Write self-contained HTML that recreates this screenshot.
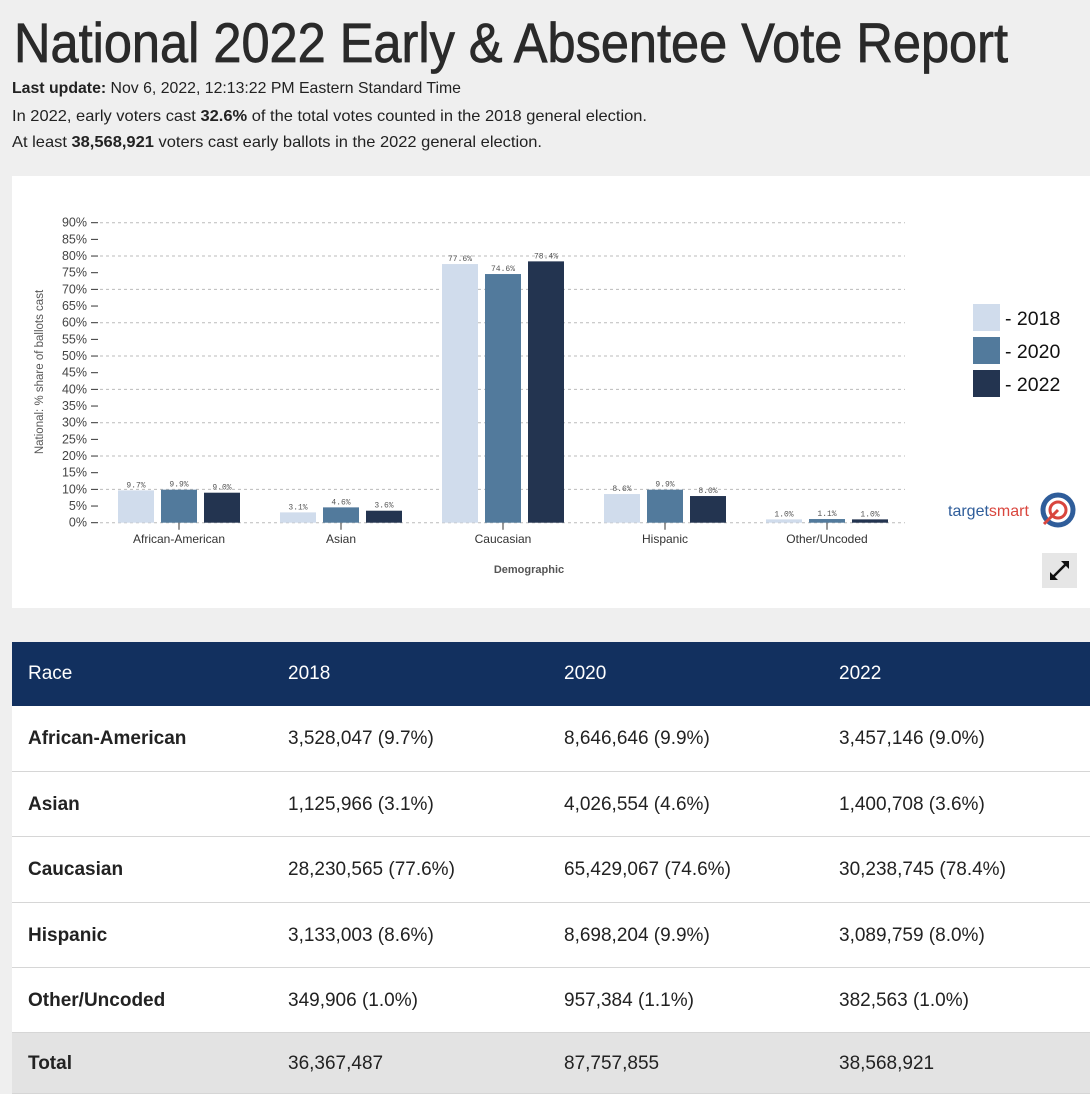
<!DOCTYPE html>
<html><head><meta charset="utf-8">
<style>
body{margin:0;width:1090px;height:1094px;background:#efefef;overflow:hidden;font-family:"Liberation Sans Narrow","Liberation Sans",sans-serif;color:#222;position:relative}
.abs{position:absolute}
#card{left:12px;top:176px;width:1078px;height:432px;background:#fff}
#tbl{left:12px;top:642px;width:1078px}
.row{position:absolute;left:0;width:1078px;border-bottom:1px solid #d6d6d6;background:#fff;box-sizing:border-box}
.row div{position:absolute;top:0;font-size:19px;color:#222}
.hdr{background:#12305f;border:none}
.hdr div{color:#fff;font-size:19px}
.tot{background:#e3e3e3}
b{font-weight:bold}
</style></head><body>
<svg class="abs" style="left:0;top:0" width="1090" height="170">
<text x="14" y="62" font-family="Liberation Sans Narrow, Liberation Sans, sans-serif" font-size="56" fill="#2a2a2a" stroke="#2a2a2a" stroke-width="0.8" textLength="994" lengthAdjust="spacingAndGlyphs">National 2022 Early &amp; Absentee Vote Report</text>
<text x="12" y="93" font-size="16" font-family="Liberation Sans Narrow, Liberation Sans, sans-serif" fill="#222" textLength="449" lengthAdjust="spacingAndGlyphs"><tspan font-weight="bold">Last update:</tspan> Nov 6, 2022, 12:13:22 PM Eastern Standard Time</text>
<text x="12" y="121" font-size="16" font-family="Liberation Sans Narrow, Liberation Sans, sans-serif" fill="#222" textLength="635" lengthAdjust="spacingAndGlyphs">In 2022, early voters cast <tspan font-weight="bold">32.6%</tspan> of the total votes counted in the 2018 general election.</text>
<text x="12" y="147" font-size="16" font-family="Liberation Sans Narrow, Liberation Sans, sans-serif" fill="#222" textLength="530" lengthAdjust="spacingAndGlyphs">At least <tspan font-weight="bold">38,568,921</tspan> voters cast early ballots in the 2022 general election.</text>
</svg>
<div id="card" class="abs"></div>
<svg id="chart" class="abs" style="left:0;top:0" width="1090" height="620"></svg>
<div id="tbl" class="abs"></div>
<script>
const categories=["African-American","Asian","Caucasian","Hispanic","Other/Uncoded"];
const years=["2018","2020","2022"];
const v2018=[9.7,3.1,77.6,8.6,1.0];
const v2020=[9.9,4.6,74.6,9.9,1.1];
const v2022=[9.0,3.6,78.4,8.0,1.0];
const yTicks=[0,5,10,15,20,25,30,35,40,45,50,55,60,65,70,75,80,85,90];
const colors=["#d0dcec","#527a9c","#233450"];
const c2018=["3,528,047 (9.7%)","1,125,966 (3.1%)","28,230,565 (77.6%)","3,133,003 (8.6%)","349,906 (1.0%)"];
const c2020=["8,646,646 (9.9%)","4,026,554 (4.6%)","65,429,067 (74.6%)","8,698,204 (9.9%)","957,384 (1.1%)"];
const c2022=["3,457,146 (9.0%)","1,400,708 (3.6%)","30,238,745 (78.4%)","3,089,759 (8.0%)","382,563 (1.0%)"];
const totals=["36,367,487","87,757,855","38,568,921"];

const NS="http://www.w3.org/2000/svg";
const svg=document.getElementById('chart');
const X0=98,BW=162,Y0=522.7,PPU=300/90;
const yScale=v=>Y0-v*PPU;
const xc=i=>X0+BW*(i+0.5);
function mk(t,a,p){const e=document.createElementNS(NS,t);for(const k in a)e.setAttribute(k,a[k]);(p||svg).appendChild(e);return e;}
yTicks.forEach(t=>{
  const g=mk('g',{});
  
  
  mk('line',{x1:91,x2:98,y1:yScale(t),y2:yScale(t),stroke:'#333','stroke-width':1},g);
  if(t%10===0) mk('line',{x1:100,x2:905,y1:yScale(t),y2:yScale(t),stroke:'#bbb','stroke-dasharray':'3,3','stroke-width':1},g);
  const tx=mk('text',{x:87,y:yScale(t)+4,'text-anchor':'end','font-size':12.5,'font-family':'Liberation Sans, sans-serif',fill:'#444'},g);
  tx.textContent=t+'%';
});
const series=[v2018,v2020,v2022];
categories.forEach((c,i)=>{
  series.forEach((s,j)=>{
    const bx=xc(i)-61+j*43;
    const r=mk('rect',{x:bx,y:yScale(s[i]),width:36,height:s[i]*PPU,fill:colors[j]});
    
    
    const l=mk('text',{x:bx+18,y:yScale(s[i])-3,'text-anchor':'middle','font-size':8,'font-family':'Liberation Mono, monospace',fill:'#555'});
    
    
    l.textContent=s[i].toFixed(1)+'%';
  });
  mk('line',{x1:xc(i),x2:xc(i),y1:Y0,y2:Y0+7,stroke:'#333'});
  const t=mk('text',{x:xc(i),y:543,'text-anchor':'middle','font-size':12,'font-family':'Liberation Sans, sans-serif',fill:'#333'});
  
  
  t.textContent=c;
});
const xt=mk('text',{x:529,y:573,'text-anchor':'middle','font-size':11,'font-weight':'bold','font-family':'Liberation Sans Narrow, Liberation Sans, sans-serif',fill:'#555'});


xt.textContent='Demographic';
const yt=mk('text',{x:0,y:0,transform:'translate(43,372) rotate(-90)','text-anchor':'middle','font-size':11.5,'font-family':'Liberation Sans, sans-serif',fill:'#555'});


yt.textContent='National: % share of ballots cast';
years.forEach((yr,j)=>{
  const g=mk('g',{});
  
  
  mk('rect',{x:973,y:304+j*33,width:27,height:27,fill:colors[j]},g);
  const t=mk('text',{x:1005,y:325+j*33,'font-size':19.5,'font-family':'Liberation Sans, sans-serif',fill:'#111'},g);
  t.textContent='- '+yr;
});
const logo=mk('g',{});


const lt=mk('text',{x:948,y:516,'font-size':16,'font-family':'Liberation Sans, sans-serif'},logo);
lt.innerHTML='<tspan fill="#2f5d9a">target</tspan><tspan fill="#d9463e">smart</tspan>';
mk('circle',{cx:1058,cy:510,r:15,fill:'none',stroke:'#2f5d9a','stroke-width':5},logo);
mk('circle',{cx:1058,cy:510,r:8,fill:'none',stroke:'#d9463e','stroke-width':3},logo);
mk('line',{x1:1044,x2:1058,y1:524,y2:510,stroke:'#d9463e','stroke-width':3},logo);
const eb=mk('g',{});


mk('rect',{x:1042,y:553,width:35,height:35,fill:'#e6e6e6'},eb);
mk('line',{x1:1052,y1:578,x2:1067,y2:563,stroke:'#111','stroke-width':2.5},eb);
mk('path',{d:'M1061 561 L1069 561 L1069 569 Z M1050 572 L1050 580 L1058 580 Z',fill:'#111'},eb);

// table
const tbl=document.getElementById('tbl');
const colX=[16,276,552,827];
const rows=[{h:64,cls:'hdr',cells:['Race','2018','2020','2022'],name:'table-header'}];
categories.forEach((c,i)=>rows.push({h:[66,65,66,65,65][i],cls:'',cells:['<b>'+c+'</b>',c2018[i],c2020[i],c2022[i]],name:'table-row'}));
rows.push({h:61,cls:'tot',cells:['<b>Total</b>'].concat(totals),name:'table-total-row'});
let rowTop=0;
rows.forEach(r=>{
  const d=document.createElement('div');
  d.className='row '+r.cls;
  d.style.top=rowTop+'px';d.style.height=r.h+'px';
  
  
  r.cells.forEach((c,k)=>{
    const cell=document.createElement('div');
    cell.style.left=colX[k]+'px';
    cell.style.lineHeight=r.h+'px';
    cell.innerHTML=c;
    
    
    d.appendChild(cell);
  });
  tbl.appendChild(d);
  rowTop+=r.h;
});
</script>
</body></html>
